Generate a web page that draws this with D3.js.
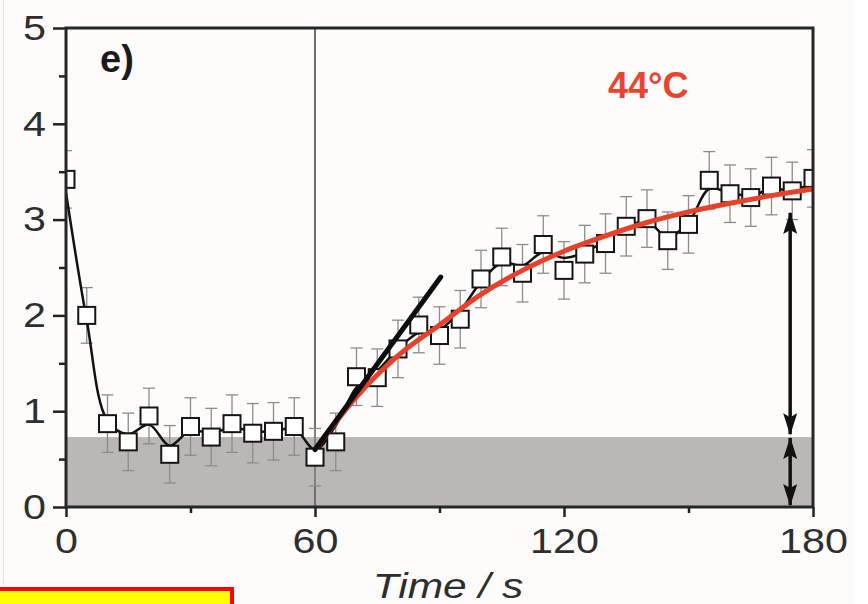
<!DOCTYPE html>
<html>
<head>
<meta charset="utf-8">
<script src="https://cdn.jsdelivr.net/npm/d3@7"></script>
<style>
  body { margin: 0; background: #fdfcfb; }
  svg { display: block; font-family: 'Liberation Sans', Arial, sans-serif; }
</style>
</head>
<body>
<svg id="chart" width="868" height="604"></svg>
<script>
// measured points, every 5 s
let times = [0, 5, 10, 15, 20, 25, 30, 35, 40, 45, 50, 55, 60,
  65, 70, 75, 80, 85, 90, 95, 100, 105, 110, 115, 120, 125, 130,
  135, 140, 145, 150, 155, 160, 165, 170, 175, 180]
let values = [3.42, 2.0, 0.87, 0.68, 0.95, 0.55, 0.84, 0.73, 0.87, 0.77, 0.79, 0.84, 0.52,
  0.68, 1.36, 1.35, 1.65, 1.9, 1.79, 1.96, 2.38, 2.61, 2.44, 2.74, 2.47, 2.64, 2.75,
  2.93, 3.01, 2.78, 2.95, 3.41, 3.27, 3.23, 3.35, 3.3, 3.43]
let errors = [0.3, 0.29, 0.3, 0.3, 0.29, 0.3, 0.3, 0.3, 0.3, 0.31, 0.3, 0.3, 0.3,
  0.3, 0.3, 0.3, 0.3, 0.29, 0.3, 0.3, 0.3, 0.3, 0.3, 0.3, 0.3, 0.3, 0.31,
  0.31, 0.3, 0.3, 0.3, 0.3, 0.3, 0.3, 0.3, 0.3, 0.3]
// black smoothing line through the points
let smoothValues = [3.28, 1.95, 0.9, 0.76, 0.86, 0.64, 0.8, 0.77, 0.83, 0.79, 0.79, 0.82, 0.6,
  0.85, 1.25, 1.42, 1.65, 1.82, 1.85, 2.05, 2.35, 2.55, 2.52, 2.66, 2.6, 2.66, 2.78,
  2.92, 2.98, 2.82, 2.97, 3.32, 3.28, 3.25, 3.32, 3.31, 3.38]

// red fit after the stimulus
let fitTimes = [60, 70, 80, 90, 100, 110, 120, 130, 140, 150, 160, 170, 180]
let fitValues = [0.6, 1.15, 1.58, 1.9, 2.22, 2.47, 2.67, 2.83, 2.97, 3.08, 3.17, 3.25, 3.32]

// initial slope
let tangentTimes = [60, 90.3]
let tangentValues = [0.6, 2.4]

let baseline = 0.73
let stimulusTime = 60
let arrowTime = 174.5
let arrowSpans = [[0.76, 3.07], [0.02, 0.72]]

let xTicks = [0, 60, 120, 180]
let xMinorTicks = [30, 90, 150]
let yTicks = [0, 1, 2, 3, 4, 5]
let yMinorTicks = [0.5, 1.5, 2.5, 3.5, 4.5]

let margin = { top: 28, left: 66, right: 55, bottom: 97 }
let width = 868 - margin.left - margin.right
let height = 604 - margin.top - margin.bottom

let svg = d3.select('#chart')

// faint edges of the original figure
svg.append('rect')
  .attr('x', 855).attr('y', 0).attr('width', 13).attr('height', 604)
  .attr('fill', '#ffffff')
svg.append('line')
  .attr('x1', 3.5).attr('x2', 3.5).attr('y1', 0).attr('y2', 586)
  .attr('stroke', '#e6e6e6').attr('stroke-width', 1)

let g = svg.append('g')
  .attr('transform', `translate(${margin.left},${margin.top})`)

let x = d3.scaleLinear().domain([0, 180]).range([0, width])
let y = d3.scaleLinear().domain([0, 5]).range([height, 0])

let points = times.map((t, i) => ({ t: t, v: values[i], e: errors[i], s: smoothValues[i] }))

g.append('clipPath')
  .attr('id', 'plot-clip')
  .append('rect')
  .attr('width', width)
  .attr('height', height)

let plot = g.append('g').attr('clip-path', 'url(#plot-clip)')

// baseline band
plot.append('rect')
  .attr('x', 0)
  .attr('y', y(baseline))
  .attr('width', width)
  .attr('height', y(0) - y(baseline))
  .attr('fill', '#bab7b4')

// stimulus line
plot.append('line')
  .attr('x1', x(stimulusTime)).attr('x2', x(stimulusTime))
  .attr('y1', 0).attr('y2', height)
  .attr('stroke', '#6f6f6f')
  .attr('stroke-width', 2)

// error bars
let bars = plot.selectAll('.err')
  .data(points)
  .enter()
  .append('g')
  .attr('class', 'err')
  .attr('stroke', '#8c8c8c')
  .attr('stroke-width', 1.3)

bars.append('line')
  .attr('x1', d => x(d.t)).attr('x2', d => x(d.t))
  .attr('y1', d => y(d.v + d.e)).attr('y2', d => y(d.v - d.e))
bars.append('line')
  .attr('x1', d => x(d.t) - 6).attr('x2', d => x(d.t) + 6)
  .attr('y1', d => y(d.v + d.e)).attr('y2', d => y(d.v + d.e))
bars.append('line')
  .attr('x1', d => x(d.t) - 6).attr('x2', d => x(d.t) + 6)
  .attr('y1', d => y(d.v - d.e)).attr('y2', d => y(d.v - d.e))

// smoothing line
let smoothLine = d3.line()
  .x(d => x(d.t))
  .y(d => y(d.s))
  .curve(d3.curveCatmullRom)

plot.append('path')
  .datum(points)
  .attr('d', smoothLine)
  .attr('fill', 'none')
  .attr('stroke', '#111')
  .attr('stroke-width', 2.5)

// squares
let size = 17
plot.selectAll('.pt')
  .data(points)
  .enter()
  .append('rect')
  .attr('class', 'pt')
  .attr('x', d => x(d.t) - size / 2)
  .attr('y', d => y(d.v) - size / 2)
  .attr('width', size)
  .attr('height', size)
  .attr('fill', '#fff')
  .attr('stroke', '#151515')
  .attr('stroke-width', 2)

// red fit
let fitLine = d3.line()
  .x(d => x(d[0]))
  .y(d => y(d[1]))
  .curve(d3.curveMonotoneX)

plot.append('path')
  .datum(fitTimes.map((t, i) => [t, fitValues[i]]))
  .attr('d', fitLine)
  .attr('fill', 'none')
  .attr('stroke', '#e8412b')
  .attr('stroke-width', 5)

// tangent
plot.append('line')
  .attr('x1', x(tangentTimes[0])).attr('y1', y(tangentValues[0]))
  .attr('x2', x(tangentTimes[1])).attr('y2', y(tangentValues[1]))
  .attr('stroke', '#0d0d0d')
  .attr('stroke-width', 5)
  .attr('stroke-linecap', 'round')

// double arrows
svg.append('defs')
  .append('marker')
  .attr('id', 'head')
  .attr('viewBox', '0 0 22 14')
  .attr('refX', 21)
  .attr('refY', 7)
  .attr('markerUnits', 'userSpaceOnUse')
  .attr('markerWidth', 22)
  .attr('markerHeight', 14)
  .attr('orient', 'auto-start-reverse')
  .append('path')
  .attr('d', 'M0,0 L22,7 L0,14 L4,7 Z')
  .attr('fill', '#111')

g.selectAll('.span-arrow')
  .data(arrowSpans)
  .enter()
  .append('line')
  .attr('class', 'span-arrow')
  .attr('x1', x(arrowTime)).attr('x2', x(arrowTime))
  .attr('y1', d => y(d[0])).attr('y2', d => y(d[1]))
  .attr('stroke', '#111')
  .attr('stroke-width', 3.5)
  .attr('marker-start', 'url(#head)')
  .attr('marker-end', 'url(#head)')

// axes
let stretch = 1.18

let xAxis = d3.axisBottom(x)
  .tickValues(xTicks)
  .tickSize(10)
  .tickPadding(11)
  .tickFormat(d3.format('d'))

let xMinor = d3.axisBottom(x)
  .tickValues(xMinorTicks)
  .tickSize(6)
  .tickFormat('')

let yAxis = d3.axisLeft(y)
  .tickValues(yTicks)
  .tickSize(13)
  .tickPadding(7)
  .tickFormat(d3.format('d'))

let yMinor = d3.axisLeft(y)
  .tickValues(yMinorTicks)
  .tickSize(7)
  .tickFormat('')

function styleAxis(sel) {
  sel.select('.domain').remove()
  sel.selectAll('line').attr('stroke', '#222').attr('stroke-width', 2.5)
  sel.selectAll('text')
    .attr('font-size', 35)
    .attr('fill', '#2e2e2e')
}

g.append('g')
  .attr('transform', `translate(0,${height})`)
  .call(xMinor)
  .call(styleAxis)

g.append('g')
  .attr('transform', `translate(0,${height})`)
  .call(xAxis)
  .call(styleAxis)
  .selectAll('text')
  .attr('transform', `scale(${stretch},1)`)

g.append('g')
  .call(yMinor)
  .call(styleAxis)

g.append('g')
  .call(yAxis)
  .call(styleAxis)
  .selectAll('text')
  .attr('x', -20 / stretch)
  .attr('transform', `scale(${stretch},1)`)

// frame
g.append('rect')
  .attr('width', width)
  .attr('height', height)
  .attr('fill', 'none')
  .attr('stroke', '#262626')
  .attr('stroke-width', 3)

// labels
g.append('text')
  .text('e)')
  .attr('x', 100 - margin.left)
  .attr('y', 72 - margin.top)
  .attr('font-size', 38)
  .attr('font-weight', 'bold')
  .attr('fill', '#1a1a1a')

g.append('text')
  .text('44°C')
  .attr('x', 608 - margin.left)
  .attr('y', 98 - margin.top)
  .attr('font-size', 36)
  .attr('font-weight', 'bold')
  .attr('fill', '#e8452f')

svg.append('text')
  .text('Time / s')
  .attr('transform', `translate(448,598) scale(${stretch},1)`)
  .attr('text-anchor', 'middle')
  .attr('font-size', 36)
  .attr('font-style', 'italic')
  .attr('fill', '#2e2e2e')

// highlight box in the corner
svg.append('rect')
  .attr('x', -4)
  .attr('y', 589)
  .attr('width', 236)
  .attr('height', 30)
  .attr('fill', '#ffff00')
  .attr('stroke', '#ff0000')
  .attr('stroke-width', 4)
</script>
</body>
</html>
